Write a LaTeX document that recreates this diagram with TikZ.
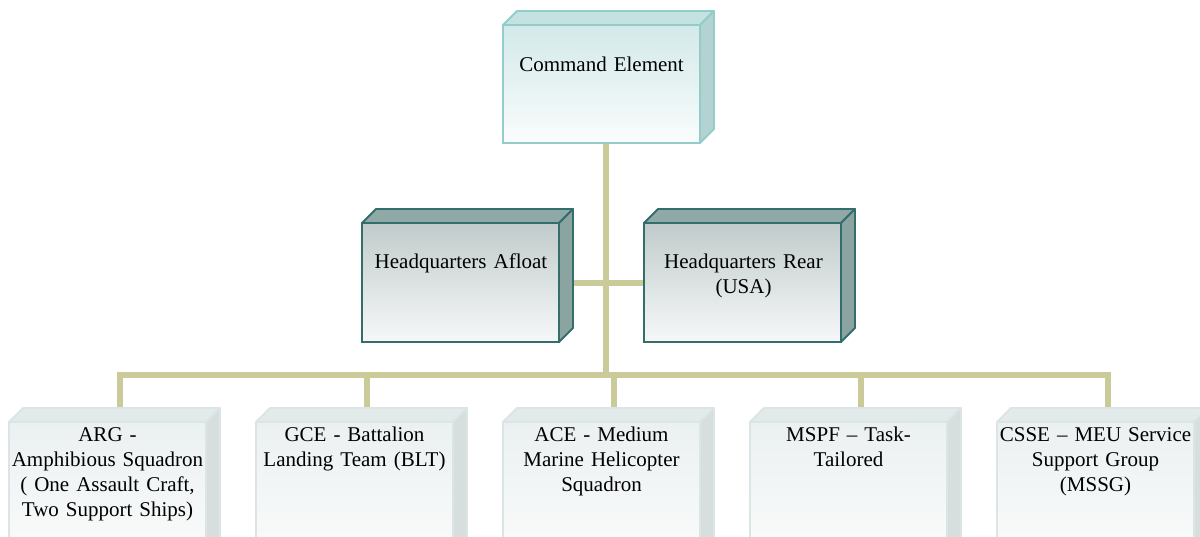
\documentclass[tikz,border=0pt]{standalone}
\usepackage{fontspec}
\setmainfont{Liberation Serif}
\usetikzlibrary{backgrounds}
\definecolor{connc}{HTML}{CBCB99}
\definecolor{ceborder}{HTML}{93CDCA}
\definecolor{cetop}{HTML}{C4E2E1}
\definecolor{ceside}{HTML}{B3D2D1}
\definecolor{cefronttop}{HTML}{D3E9E9}
\definecolor{cefrontbot}{HTML}{FAFCFC}
\definecolor{hqborder}{HTML}{336E6C}
\definecolor{hqtop}{HTML}{8FA9A7}
\definecolor{hqside}{HTML}{8BA4A2}
\definecolor{hqfronttop}{HTML}{C1CBCB}
\definecolor{hqfrontbot}{HTML}{F6F8F8}
\definecolor{bborder}{HTML}{DCE5E5}
\definecolor{btop}{HTML}{E3EAEA}
\definecolor{bside}{HTML}{D6DEDE}
\definecolor{bfronttop}{HTML}{EBF0F0}
\definecolor{bfrontbot}{HTML}{FBFCFC}
\newcommand{\cubefaces}[4]{%
  \filldraw[fill=#2, draw=#4, line width=1.8pt, line join=round]
    (#1.north west) -- ([shift={(14,-14)}]#1.north west) -- ([shift={(14,-14)}]#1.north east) -- (#1.north east) -- cycle;
  \filldraw[fill=#3, draw=#4, line width=1.8pt, line join=round]
    (#1.north east) -- ([shift={(14,-14)}]#1.north east) -- ([shift={(14,-14)}]#1.south east) -- (#1.south east) -- cycle;}
\begin{document}
\begin{tikzpicture}[x=1pt,y=-1pt,
  conn/.style={line width=6pt, draw=connc},
  facebox/.style={line width=1.8pt, anchor=north west, inner sep=0pt, outer sep=0pt, minimum width=197pt},
  cebox/.style={facebox, draw=ceborder, top color=cefronttop, bottom color=cefrontbot, minimum height=118pt},
  hqbox/.style={facebox, draw=hqborder, top color=hqfronttop, bottom color=hqfrontbot, minimum height=119pt},
  lowbox/.style={facebox, draw=bborder, top color=bfronttop, bottom color=bfrontbot, minimum height=140pt},
  lbl/.style={font=\fontsize{21}{25}\selectfont, align=center, text width=240pt, anchor=base, inner sep=0pt}
]
\useasboundingbox (0,0) rectangle (1200,536);
\clip (0,0) rectangle (1200,536);

% boxes
\node[cebox] (ce) at (503,25) {};
\cubefaces{ce}{cetop}{ceside}{ceborder}
\node[hqbox] (hqa) at (362,223) {};
\cubefaces{hqa}{hqtop}{hqside}{hqborder}
\node[hqbox] (hqr) at (644,223) {};
\cubefaces{hqr}{hqtop}{hqside}{hqborder}
\node[lowbox] (arg) at (9,422) {};
\cubefaces{arg}{btop}{bside}{bborder}
\node[lowbox] (gce) at (256,422) {};
\cubefaces{gce}{btop}{bside}{bborder}
\node[lowbox] (ace) at (503,422) {};
\cubefaces{ace}{btop}{bside}{bborder}
\node[lowbox] (mspf) at (750,422) {};
\cubefaces{mspf}{btop}{bside}{bborder}
\node[lowbox] (csse) at (997,422) {};
\cubefaces{csse}{btop}{bside}{bborder}

% connectors
\begin{scope}[on background layer]
\coordinate (bus) at (605.5,375);
\draw[conn] ([xshift=4pt]ce.south) -- (bus);
\draw[conn] (hqa.east) -- (hqr.west);
\draw[conn] ([xshift=12pt]arg.north) |- (bus) -| ([xshift=12pt]csse.north);
\draw[conn] ([xshift=12pt]gce.north) |- (bus);
\draw[conn] ([xshift=12pt]ace.north) |- (bus);
\draw[conn] ([xshift=12pt]mspf.north) |- (bus);
\end{scope}

% labels
\node[lbl] (tce) at (601.5,71) {Command Element};
\node[lbl] (thqa) at (461,268) {Headquarters Afloat};
\node[lbl] (thqr) at (743.5,268) {Headquarters Rear\\(USA)};
\node[lbl] (targ) at (107.5,441) {ARG -\\Amphibious Squadron\\( One Assault Craft,\\Two Support Ships)};
\node[lbl] (tgce) at (354.5,441) {GCE - Battalion\\Landing Team (BLT)};
\node[lbl] (tace) at (601.5,441) {ACE - Medium\\Marine Helicopter\\Squadron};
\node[lbl] (tmspf) at (848.5,441) {MSPF – Task-\\Tailored};
\node[lbl] (tcsse) at (1095.5,441) {CSSE – MEU Service\\Support Group\\(MSSG)};
\end{tikzpicture}
\end{document}
